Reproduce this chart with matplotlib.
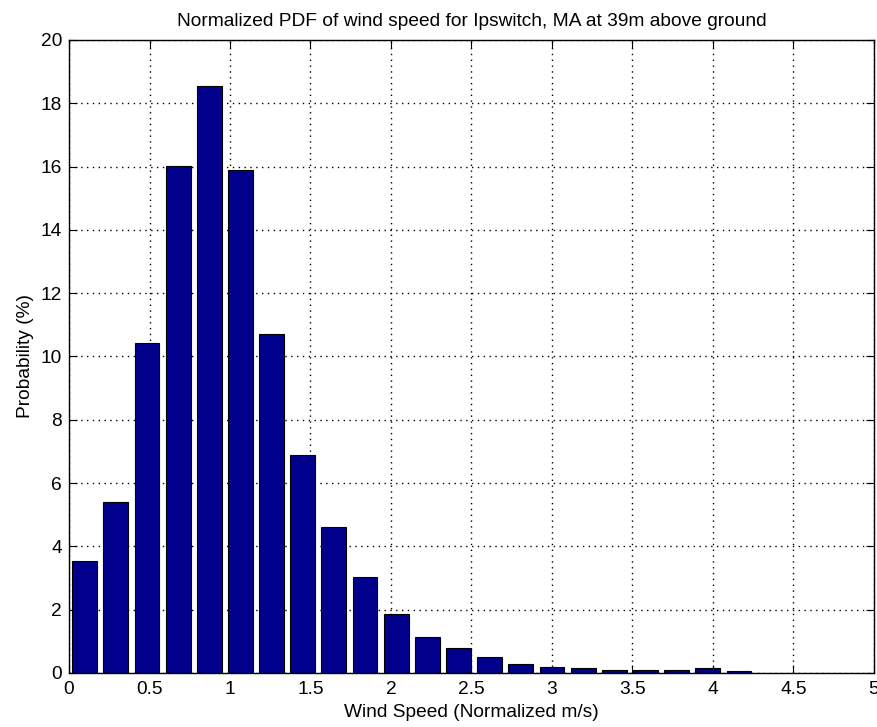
import numpy as np
import matplotlib
matplotlib.use('Agg')
import matplotlib.pyplot as plt

# bin centres of the normalized wind speed histogram (22 bins up to ~4.26)
speed_bins = [0.097, 0.290, 0.484, 0.678, 0.871, 1.065, 1.258, 1.452, 1.645, 1.839, 2.032,
              2.226, 2.420, 2.613, 2.807, 3.000, 3.194, 3.388, 3.581, 3.775, 3.968, 4.162]
# probability of each bin (%)
probability = [3.55, 5.41, 10.44, 16.02, 18.55, 15.89, 10.71, 6.90, 4.62, 3.04, 1.87,
               1.13, 0.80, 0.52, 0.29, 0.20, 0.15, 0.10, 0.10, 0.10, 0.16, 0.06]

x_ticks = [0, 0.5, 1, 1.5, 2, 2.5, 3, 3.5, 4, 4.5, 5]
y_ticks = [0, 2, 4, 6, 8, 10, 12, 14, 16, 18, 20]

FONT_SIZE = 13.75
plt.rcParams['font.family'] = ['Liberation Sans', 'DejaVu Sans']
plt.rcParams['font.size'] = FONT_SIZE

fig = plt.figure(figsize=(8.78, 7.27), dpi=100)
ax = fig.add_axes([0.0786, 0.0743, 0.9168, 0.8707])

bin_width = speed_bins[1] - speed_bins[0]
ax.bar(speed_bins, probability, width=0.8 * bin_width, color='#00008c',
       edgecolor='black', linewidth=0.8, zorder=3)

ax.set_xlim(0, 5)
ax.set_ylim(0, 20)
ax.set_xticks(x_ticks)
ax.set_xticklabels([f'{t:g}' for t in x_ticks])
ax.set_yticks(y_ticks)

# matlab style: dotted grid, ticks inside on every side
ax.grid(True, color='black', linestyle=(0, (1, 3.2)), linewidth=1.0, zorder=1)
ax.tick_params(direction='in', length=6, width=0.8, top=True, right=True,
               pad=5, colors='black')
ax.tick_params(axis='x', pad=6)
for side in ax.spines.values():
    side.set_linewidth(1.0)
    side.set_zorder(4)

ax.set_title('Normalized PDF of wind speed for Ipswitch, MA at 39m above ground',
             fontsize=FONT_SIZE, pad=10)
ax.set_xlabel('Wind Speed (Normalized m/s)', labelpad=4)
ax.set_ylabel('Probability (%)', labelpad=5)

fig.savefig('out.png', dpi=100)
